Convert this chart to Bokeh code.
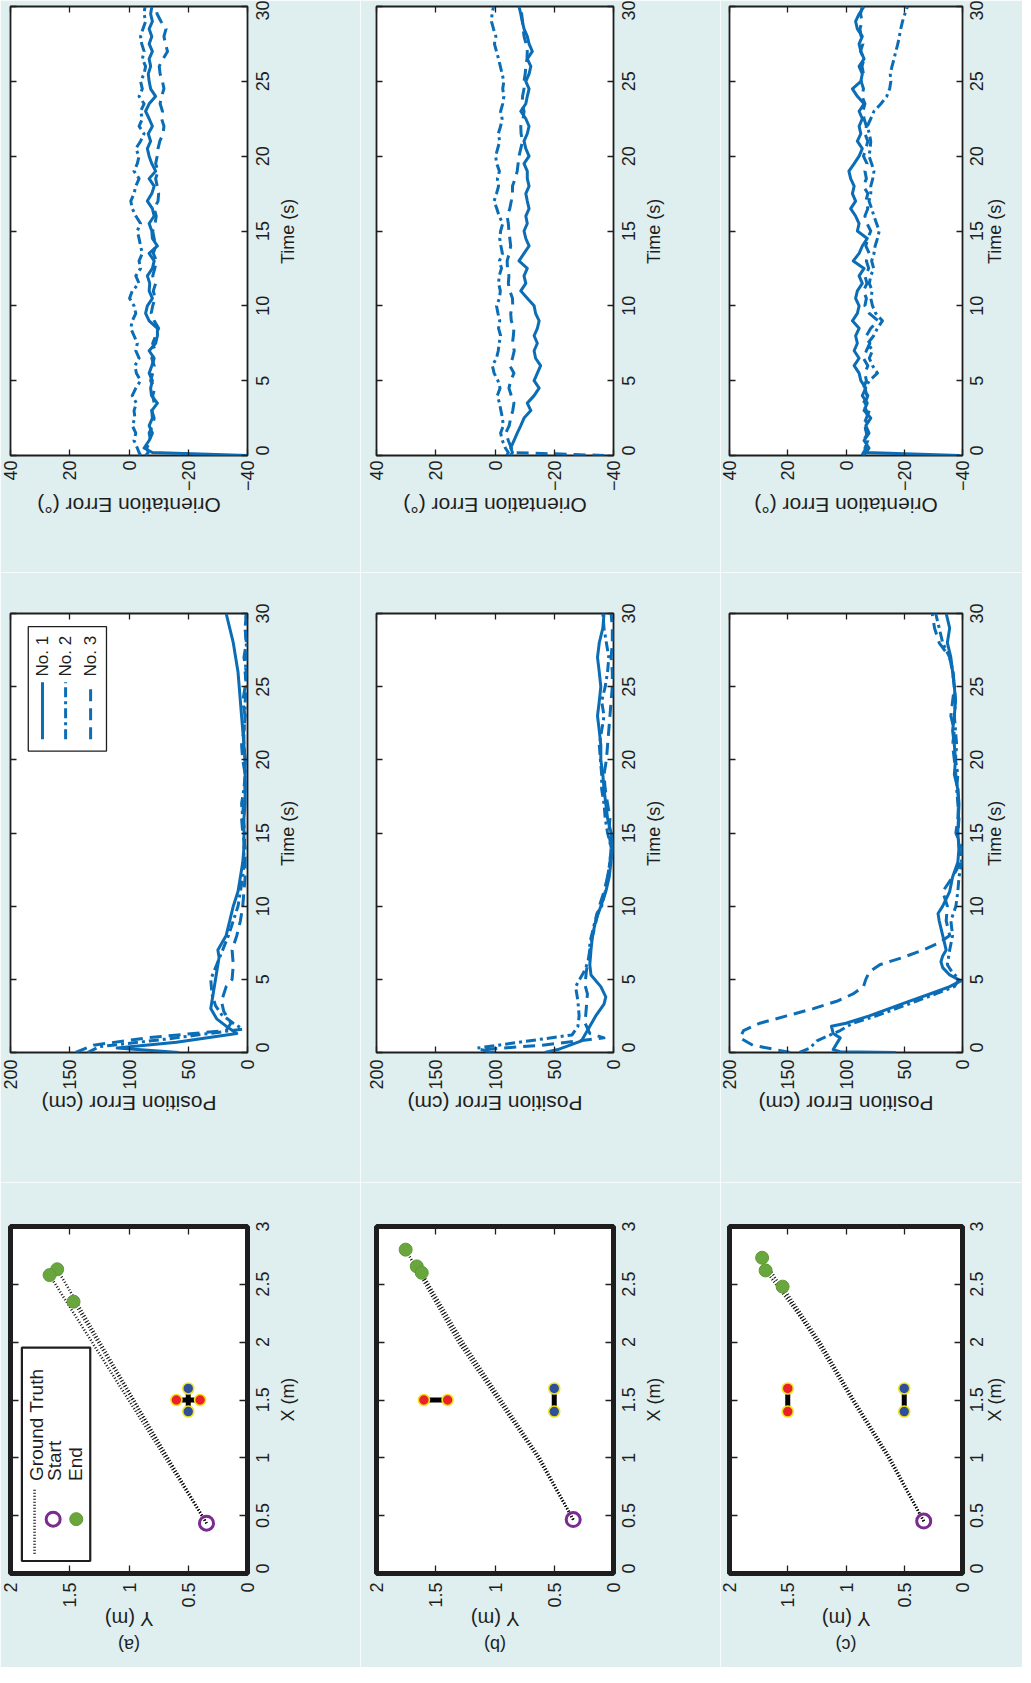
from bokeh.plotting import figure
from bokeh.models import Range1d, LinearAxis, FixedTicker
from bokeh.layouts import column, row
from bokeh.embed import file_html
from bokeh.resources import INLINE
from bokeh.core.properties import value
import math

# ---------------- data ----------------
TIME_TICKS = [0, 5, 10, 15, 20, 25, 30]
TIME_TICK_TEXT = ["0", "5", "10", "15", "20", "25", "30"]
POS_TICKS = [0, 50, 100, 150, 200]
POS_TICK_TEXT = ["0", "50", "100", "150", "200"]
ORI_TICKS = [-40, -20, 0, 20, 40]
ORI_TICK_TEXT = ["\u221240", "\u221220", "0", "20", "40"]
XM_TICKS = [0, 0.5, 1, 1.5, 2, 2.5, 3]
XM_TICK_TEXT = ["0", "0.5", "1", "1.5", "2", "2.5", "3"]
YM_TICKS = [0, 0.5, 1, 1.5, 2]
YM_TICK_TEXT = ["0", "0.5", "1", "1.5", "2"]
SERIES = ["No. 1", "No. 2", "No. 3"]
PANELS = ["(a)", "(b)", "(c)"]
TRAJ_LEGEND = ["Ground Truth", "Start", "End"]

# orientation error (deg), sampled at 0, 0.2, 0.5, 1.0, ... 30 s
ORI_T = [0, 0.2] + [0.5 * k for k in range(1, 61)]
ORI_A_1 = [-40, -7.9, -5.1, -6.8, -7.9, -6.8, -7.9, -7.7, -9.6, -7.6,
           -7.3, -7.9, -6.8, -7.7, -8.5, -6.8, -9.0, -9.6, -9.6, -6.8,
           -5.6, -6.2, -7.9, -6.8, -7.0, -6.2, -7.9, -8.5, -6.8, -9.6,
           -7.9, -7.7, -6.8, -8.5, -7.9, -6.2, -7.7, -8.5, -6.8, -9.0,
           -7.7, -6.8, -6.2, -7.3, -6.5, -7.9, -6.8, -5.6, -6.8, -9.0,
           -7.3, -6.8, -6.5, -7.3, -6.8, -7.9, -6.8, -7.7, -6.8, -7.9,
           -7.3, -7.7]
ORI_A_2 = [-3.9, -3.4, -2.8, -1.7, -2.3, -1.1, -2.0, -1.7, -2.5, -1.1,
           -2.3, -3.9, -2.5, -2.0, -3.4, -2.3, -2.8, -1.7, -0.6, -1.1,
           -2.3, -1.7, -0.2, -1.1, -3.4, -2.3, -3.9, -3.4, -4.5, -3.9,
           -3.4, -2.8, -3.9, -2.3, -1.1, -0.6, -1.7, -2.3, -3.4, -1.7,
           -2.8, -3.4, -2.3, -3.9, -5.1, -3.4, -4.5, -3.9, -5.1, -3.4,
           -4.5, -3.9, -5.1, -5.6, -4.5, -5.1, -4.3, -3.9, -4.7, -5.6,
           -5.1, -5.4]
ORI_A_3 = [-5.6, -6.5, -6.0, -7.3, -6.8, -7.9, -8.5, -7.7, -8.5, -8.0,
           -8.7, -7.3, -8.0, -8.5, -7.7, -8.8, -8.0, -9.0, -10.0, -8.5,
           -7.5, -8.0, -8.8, -8.2, -9.0, -8.0, -8.7, -9.3, -8.2, -9.0,
           -8.5, -8.0, -8.8, -9.2, -8.5, -9.8, -10.0, -9.5, -9.0, -9.8,
           -9.0, -9.5, -9.8, -10.4, -11.5, -11.8, -11.0, -11.3, -10.5, -11.0,
           -11.8, -11.3, -10.5, -10.2, -11.5, -13.0, -12.3, -11.8, -12.5, -10.8,
           -9.5, -9.0]
ORI_B_1 = [-5.3, -5.9, -5.3, -6.4, -7.5, -8.7, -9.8, -12.1, -10.9, -13.2,
           -14.9, -13.2, -14.3, -15.4, -13.7, -13.2, -14.3, -13.2, -14.3, -14.9,
           -13.7, -13.2, -10.9, -8.7, -10.4, -9.8, -10.9, -8.1, -9.8, -11.5,
           -10.4, -9.8, -10.9, -10.4, -11.5, -10.9, -10.4, -11.5, -10.9, -10.9,
           -9.8, -11.5, -10.4, -9.8, -10.9, -11.5, -10.4, -8.7, -10.4, -10.9,
           -11.5, -10.4, -11.5, -12.1, -10.9, -12.6, -11.5, -10.9, -9.8, -9.2,
           -8.7, -8.1]
ORI_B_2 = [-4.0, -4.5, -3.5, -2.5, -1.9, -2.8, -2.5, -2.0, -1.5, -0.8,
           -1.7, -1.0, 0.3, 0.9, -0.5, -1.1, -1.4, -1.9, -1.2, -1.6,
           -1.0, -0.5, -1.5, -1.8, -1.2, -1.4, -2.2, -1.5, -2.5, -2.0,
           -1.6, -1.9, -2.6, -1.4, -0.6, 0.3, -0.5, -1.2, -0.8, -1.5,
           -0.6, -0.2, -0.9, -1.6, -1.1, -1.9, -2.4, -1.9, -2.6, -3.0,
           -2.6, -3.0, -2.4, -1.8, -1.2, -0.5, 0.2, -0.3, 0.5, 1.2,
           1.0, 0.5]
ORI_B_3 = [-37, -6.0, -5.5, -4.5, -3.6, -4.8, -5.3, -6.0, -6.4, -5.5,
           -4.7, -5.3, -6.4, -5.0, -5.9, -6.5, -5.9, -6.2, -6.4, -5.5,
           -5.3, -6.0, -5.9, -5.0, -4.5, -4.7, -4.2, -4.1, -4.8, -5.3,
           -5.0, -4.7, -4.5, -4.1, -5.0, -5.5, -5.9, -5.9, -6.8, -7.5,
           -7.8, -8.1, -8.7, -9.3, -8.8, -8.7, -9.5, -9.8, -9.2, -9.3,
           -9.8, -9.8, -10.2, -10.4, -10.8, -10.9, -10.5, -9.8, -9.5, -9.3,
           -9.0, -8.7]
ORI_C_1 = [-39, -6.8, -7.9, -6.2, -7.9, -6.8, -8.5, -6.2, -7.3, -5.6,
           -6.8, -5.1, -4.5, -2.8, -4.5, -2.8, -3.9, -3.3, -4.5, -2.2,
           -3.9, -4.5, -3.3, -3.9, -5.6, -4.5, -6.2, -2.5, -4.5, -5.6,
           -7.3, -3.9, -4.5, -3.3, -1.6, -3.3, -2.2, -2.8, -1.6, -1.0,
           -2.8, -4.5, -5.6, -3.9, -5.1, -4.5, -5.6, -4.5, -6.2, -3.9,
           -2.2, -5.1, -5.6, -4.5, -6.2, -5.1, -4.5, -5.6, -3.9, -3.3,
           -4.5, -6.2]
ORI_C_2 = [-6.0, -7.0, -6.5, -7.5, -7.0, -6.5, -7.5, -7.0, -6.0, -7.2,
           -6.5, -8.0, -10.8, -9.1, -8.0, -9.1, -7.5, -9.5, -10.8, -12.5,
           -10.2, -9.1, -8.5, -9.0, -8.0, -8.5, -9.5, -8.8, -9.6, -10.0,
           -10.8, -11.4, -10.5, -9.6, -8.8, -7.9, -8.5, -8.5, -9.2, -9.6,
           -8.8, -7.9, -8.3, -8.5, -8.0, -7.3, -8.5, -9.6, -12.0, -14.0,
           -15.0, -15.4, -15.2, -15.8, -16.5, -17.1, -17.8, -18.3, -18.8, -19.4,
           -20.2, -21.1]
ORI_C_3 = [-5.5, -6.0, -7.0, -6.0, -7.5, -6.0, -7.0, -8.0, -6.5, -7.5,
           -6.0, -7.0, -6.5, -7.5, -6.0, -7.0, -8.2, -7.0, -8.5, -11.0,
           -8.0, -6.5, -7.0, -6.0, -7.2, -6.5, -7.8, -7.0, -8.0, -6.8,
           -7.5, -8.5, -7.2, -6.5, -7.5, -6.8, -7.5, -6.0, -7.0, -6.5,
           -7.2, -6.0, -6.8, -7.5, -6.5, -7.0, -6.2, -5.8, -6.5, -5.5,
           -6.0, -5.2, -6.0, -5.5, -6.2, -5.0, -5.8, -5.2, -4.8, -5.5,
           -5.0, -5.6]

# position error (cm): early samples, then one per second from 10 s to 30 s
TAIL_T = list(range(10, 31))
POS_A_T1 = [0, 0.3, 0.7, 1.3, 1.8, 2.3, 3.0, 3.5, 4.5, 5.5, 6.5, 7.0, 8.0, 9.0] + TAIL_T
POS_A_V1 = [58, 110, 60, 9, 18, 26, 31, 30, 28, 26, 24, 25, 18, 15,
            12, 8, 6, 4, 3, 3, 3, 2, 2, 2, 2, 3, 4, 5, 6, 7, 8, 10, 12, 15, 18]
POS_A_T2 = [0, 0.4, 0.9, 1.6, 2.0, 2.6, 3.2, 4.0, 5.0, 6.0, 7.0, 8.0, 9.0] + TAIL_T
POS_A_V2 = [135, 125, 70, 4, 12, 22, 27, 30, 31, 26, 21, 16, 12,
            8, 6, 4, 3, 3, 2, 4, 5, 3, 2, 2, 3, 3, 2, 2, 1, 2, 1, 1, 2, 1]
POS_A_T3 = [0, 0.5, 1.0, 1.5, 2.0, 2.8, 3.5, 4.5, 5.0, 6.0, 7.0, 8.0, 9.0] + TAIL_T
POS_A_V3 = [145, 130, 85, 18, 14, 20, 22, 18, 13, 12, 13, 9, 6,
            4, 3, 2, 2, 2, 4, 5, 3, 2, 2, 4, 5, 3, 2, 4, 2, 1, 3, 1, 2, 1]

POS_B_T1 = [0, 0.2, 0.8, 1.5, 2.5, 3.3, 3.8, 4.5, 5.3, 6.0, 7.0, 8.0, 9.0] + TAIL_T
POS_B_V1 = [58, 47, 27, 22, 15, 8, 6.5, 10.7, 19, 20, 19, 17.7, 15,
            10.7, 6.5, 3.6, 2.2, 0.5, 2, 5, 6.5, 8, 9, 10.7, 10.7, 12, 13.5, 12, 10.7, 12, 13.5, 12, 9, 8]
POS_B_T2 = [0, 0.3, 0.7, 1.2, 1.8, 2.5, 3.5, 4.5, 5.5, 6.5, 7.5, 8.5, 9.5] + TAIL_T
POS_B_V2 = [104, 115, 80, 35, 30, 29, 30, 32, 25, 20, 20, 17, 14,
            10, 7, 5, 3, 2, 5, 7, 8, 10, 10, 11, 12, 10, 8, 10, 7, 5, 4, 6, 8, 9]
POS_B_T3 = [0, 0.2, 0.5, 1.0, 1.3, 2.0, 3.0, 4.0, 4.6, 5.5, 6.5, 7.5, 8.5] + TAIL_T
POS_B_V3 = [100, 112, 60, 8, 20, 24, 23, 22, 24, 23, 21, 19, 16,
            12, 8, 5, 3, 2, 4, 3, 5, 7, 8, 6, 5, 4, 3, 2, 1, 1, 2, 1, 1, 2]

POS_C_T1 = [0, 0.05, 0.2, 1.0, 1.3, 1.8, 2.0, 2.5, 3.0, 3.5, 4.0, 4.5, 4.9, 5.3,
            5.8, 6.2, 6.6, 7.0, 8.0, 9.0, 9.5] + TAIL_T
POS_C_V1 = [57, 105, 111, 105, 111, 112.5, 100, 80, 63, 46, 28, 11, 1.4, 11,
            17, 18.5, 17, 14, 17, 20, 21,
            17, 11, 8.5, 4, 3, 4, 3.5, 3, 4, 7, 6, 7, 8.5, 7, 6, 7, 8.5, 10, 13, 11, 14]
POS_C_T2 = [0, 0.3, 0.8, 1.5, 2.0, 2.5, 3.0, 3.5, 4.0, 4.5, 5.0, 5.5, 6.0, 7.0, 8.0, 9.0] + TAIL_T
POS_C_V2 = [140, 131, 125, 105, 94, 74, 57, 40, 23, 7, 3, 9, 13, 11, 8.5, 10,
            5.7, 4, 3, 0.6, 3, 4, 3, 4, 5, 4, 6, 5, 6, 7, 6, 7, 8, 11, 17, 20, 23]
POS_C_T3 = [0, 0.5, 1.0, 1.5, 2.0, 2.5, 3.0, 3.5, 4.0, 4.5, 5.0, 5.5, 6.0, 6.5,
            7.0, 7.5, 8.0, 9.0] + TAIL_T
POS_C_V3 = [148, 180, 191, 188, 174, 151, 128, 108, 94, 85, 83, 80, 71, 51,
            34, 20, 11, 14,
            13, 17, 8.5, 1.4, 0.6, 5.7, 4, 3.4, 4, 5.7, 7, 8.5, 7, 10, 8.5, 7, 8.5, 11, 20, 24, 26]

# ground-truth trajectories (X, Y in m), one list per robot
TRAJ_A_X = [[0.435, 2.63], [0.435, 2.58], [0.435, 2.35]]
TRAJ_A_Y = [[0.346, 1.606], [0.346, 1.67], [0.346, 1.468]]
TRAJ_B_X = [[0.466, 1.0, 2.0, 2.80], [0.466, 1.0, 2.0, 2.655], [0.466, 1.0, 2.0, 2.60]]
TRAJ_B_Y = [[0.34, 0.64, 1.31, 1.754], [0.34, 0.63, 1.29, 1.66], [0.34, 0.62, 1.27, 1.618]]
TRAJ_C_X = [[0.453, 1.0, 1.5, 2.0, 2.73], [0.453, 1.0, 1.5, 2.0, 2.62], [0.453, 1.0, 1.5, 2.0, 2.48]]
TRAJ_C_Y = [[0.333, 0.64, 0.95, 1.25, 1.72], [0.333, 0.63, 0.94, 1.23, 1.69], [0.333, 0.62, 0.93, 1.22, 1.544]]

# landmark pairs (X, Y in m)
RED_A_X = [1.5, 1.5]
RED_A_Y = [0.6, 0.4]
BLUE_A_X = [1.6, 1.4]
BLUE_A_Y = [0.5, 0.5]
RED_B_X = [1.5, 1.5]
RED_B_Y = [1.6, 1.4]
BLUE_B_X = [1.6, 1.4]
BLUE_B_Y = [0.5, 0.5]
RED_C_X = [1.6, 1.4]
RED_C_Y = [1.5, 1.5]
BLUE_C_X = [1.6, 1.4]
BLUE_C_Y = [0.5, 0.5]

# ---------------- style ----------------
FONT = "Liberation Sans"
INK = "#1e1e1e"
BG = "#dfeeee"
LINE_BLUE = "#0b6db5"
DASHES = ["solid", "10 4 3 4", "12 7"]
GT_DASH = "1 2"
RED = "#e8212b"
BLUE = "#2d4f9e"
YELLOW = "#f2e21c"
GREEN = "#6aa63e"
PURPLE = "#7b2a90"
UP = math.pi / 2          # text reading bottom-to-top
FLIP = math.pi            # upside-down text
TICK_FS = 18
VTITLE_FS = 18

# advance widths (em) of Arial / Liberation Sans, used to centre turned labels
ADV = {"0": .556, "1": .556, "2": .556, "3": .556, "4": .556, "5": .556, "6": .556,
       "7": .556, "8": .556, "9": .556, ".": .278, " ": .278, "(": .333, ")": .333,
       "\u2212": .584, "\u00b0": .4, "T": .611, "X": .667, "Y": .667, "P": .667,
       "E": .667, "O": .778, "i": .222, "m": .833, "e": .556, "s": .5, "o": .556,
       "t": .278, "n": .556, "r": .333, "c": .5, "a": .556, "b": .556}


def text_w(s, px):
    return px * sum(ADV.get(ch, 0.556) for ch in s)


# The published figure is turned 90 degrees: time / X run upward, errors / Y run leftward.
COL_W = [360, 360, 302]
COL_B = [(10, 113), (16, 107), (9, 60)]
ROW_H = [572, 610, 485]
ROW_B = [(6, 117), (41, 130), (44, 88)]
# standoffs: (tick labels below, title below, tag below) and (tick labels right, title right)
ROW_SO = [(5, 11, 0), (7, 11, 0), (9, 8, 1)]
COL_SO = [(15, 10), (15, 10), (14, 3)]
ROW_TITLE_FS = [21, 21, 20]
TAG_FS = 18


def frame_fig(r, c, x_range, y_range, outline_w):
    bl, br = COL_B[c]
    bt, bb = ROW_B[r]
    p = figure(width=COL_W[c], height=ROW_H[r], x_range=x_range, y_range=y_range,
               output_backend="svg", toolbar_location=None, title=None,
               x_axis_location=None, y_axis_location=None,
               min_border_left=bl, min_border_right=br,
               min_border_top=bt, min_border_bottom=bb)
    p.grid.visible = False
    p.background_fill_color = "white"
    p.border_fill_color = BG
    p.outline_line_color = INK
    p.outline_line_width = outline_w
    return p


def base_axis(ticks, tick_len):
    a = LinearAxis(ticker=FixedTicker(ticks=ticks), axis_label=None)
    a.axis_line_color = None
    a.major_tick_in = tick_len
    a.major_tick_out = 0
    a.minor_tick_in = 0
    a.minor_tick_out = 0
    a.major_tick_line_color = INK if tick_len > 0 else None
    a.major_tick_line_width = 1.3
    return a


def tick_only_axis(ticks, tick_len):
    a = base_axis(ticks, tick_len)
    a.major_label_overrides = {t: "" for t in ticks}
    a.major_label_text_font_size = "0px"
    a.major_label_standoff = 0
    return a


def text_axis(positions, texts, orient, standoff, fs):
    a = base_axis(positions, 0)
    a.major_label_overrides = dict(zip(positions, texts))
    a.major_label_orientation = orient
    a.major_label_standoff = standoff
    a.major_label_text_font = FONT
    a.major_label_text_font_size = "%dpx" % fs
    a.major_label_text_color = INK
    return a


def add_axes(p, r, c, e_rng, eticks, etext, etitle, t_rng, tticks, ttext, ttitle,
             tick_len, tag=None):
    bl, br = COL_B[c]
    bt, bb = ROW_B[r]
    fw = COL_W[c] - bl - br
    fh = ROW_H[r] - bt - bb
    ppu_e = fw / abs(e_rng[0] - e_rng[1])
    ppu_t = fh / abs(t_rng[1] - t_rng[0])
    e_mid = 0.5 * (e_rng[0] + e_rng[1])
    t_mid = 0.5 * (t_rng[0] + t_rng[1])
    so_tick_b, so_title_b, so_tag_b = ROW_SO[r]
    so_tick_r, so_title_r = COL_SO[c]
    title_fs = ROW_TITLE_FS[r]

    # bottom: error / Y ticks with turned labels, then the upside-down title (and tag)
    bx = base_axis(eticks, tick_len)
    bx.major_label_overrides = dict(zip(eticks, etext))
    bx.major_label_orientation = UP
    bx.major_label_standoff = so_tick_b
    bx.major_label_text_font = FONT
    bx.major_label_text_font_size = "%dpx" % TICK_FS
    bx.major_label_text_color = INK
    p.add_layout(bx, "below")
    pos = e_mid + text_w(etitle, title_fs) / 2 / ppu_e
    p.add_layout(text_axis([pos], [etitle], FLIP, so_title_b, title_fs), "below")
    if tag is not None:
        pos = e_mid + text_w(tag, TAG_FS) / 2 / ppu_e
        p.add_layout(text_axis([pos], [tag], FLIP, so_tag_b, TAG_FS), "below")
    p.add_layout(tick_only_axis(eticks, tick_len), "above")

    # right: time / X ticks, labels reading upward, title
    p.add_layout(tick_only_axis(tticks, tick_len), "left")
    p.add_layout(tick_only_axis(tticks, tick_len), "right")
    lpos = [max(t - text_w(s, TICK_FS) / 2 / ppu_t, t_rng[0]) for t, s in zip(tticks, ttext)]
    p.add_layout(text_axis(lpos, ttext, UP, so_tick_r, TICK_FS), "right")
    tpos = t_mid - text_w(ttitle, VTITLE_FS) / 2 / ppu_t
    p.add_layout(text_axis([tpos], [ttitle], UP, so_title_r, VTITLE_FS), "right")


def vtext(p, x, y, txt, size):
    p.text(x=[x], y=[y], text=[txt], angle=UP, text_align="left", text_baseline="middle",
           text_font=value(FONT), text_font_size=value(size), text_color=INK)


def traj_panel(c, tx, ty, rx, ry, bxs, bys, tag, with_legend):
    # horizontal: Y (m), reversed; vertical: X (m)
    p = frame_fig(2, c, Range1d(2, 0), Range1d(0, 3), 5)
    add_axes(p, 2, c, (2, 0), YM_TICKS, YM_TICK_TEXT, "Y (m)", (0, 3), XM_TICKS, XM_TICK_TEXT,
             "X (m)", 8, tag)
    for k in range(len(tx)):
        p.line(ty[k], tx[k], line_color="#111111", line_width=2.6, line_dash=GT_DASH)
    p.line(bys, bxs, line_color="black", line_width=5)
    p.line(ry, rx, line_color="black", line_width=5)
    p.scatter(bys, bxs, size=11, fill_color=BLUE, line_color=YELLOW, line_width=1.6)
    p.scatter(ry, rx, size=11, fill_color=RED, line_color=YELLOW, line_width=1.6)
    p.scatter([ty[0][0]], [tx[0][0]], size=14, fill_color=None, line_color=PURPLE, line_width=3)
    p.scatter([t[-1] for t in ty], [t[-1] for t in tx], size=13, fill_color=GREEN,
              line_color="#5f9a35", line_width=1)
    if with_legend:
        p.quad(left=[1.904], right=[1.327], bottom=[0.108], top=[1.953],
               fill_color="white", line_color=INK, line_width=2.2)
        p.line([1.797, 1.797], [0.17, 0.74], line_color="#111111", line_width=2.6,
               line_dash=GT_DASH)
        p.scatter([1.64], [0.47], size=14, fill_color=None, line_color=PURPLE, line_width=3)
        p.scatter([1.445], [0.47], size=13, fill_color=GREEN, line_color="#5f9a35", line_width=1)
        vtext(p, 1.78, 0.80, TRAJ_LEGEND[0], "19px")
        vtext(p, 1.625, 0.80, TRAJ_LEGEND[1], "19px")
        vtext(p, 1.455, 0.80, TRAJ_LEGEND[2], "19px")
    return p


def pos_panel(c, times, vals, with_legend):
    p = frame_fig(1, c, Range1d(200, 0), Range1d(0, 30), 1.8)
    add_axes(p, 1, c, (200, 0), POS_TICKS, POS_TICK_TEXT, "Position Error (cm)",
             (0, 30), TIME_TICKS, TIME_TICK_TEXT, "Time (s)", 6)
    for k in range(3):
        t, v = times[k], vals[k]
        n = min(len(t), len(v))
        p.line(v[:n], t[:n], line_color=LINE_BLUE, line_width=3,
               line_dash=DASHES[k], line_join="round")
    if with_legend:
        p.quad(left=[185], right=[119], bottom=[20.6], top=[29.1],
               fill_color="white", line_color=INK, line_width=1.3)
        for k, xv in enumerate([173, 153.5, 132.4]):
            p.line([xv, xv], [21.4, 25.3], line_color=LINE_BLUE, line_width=3,
                   line_dash=DASHES[k])
            vtext(p, xv, 25.7, SERIES[k], "17px")
    return p


def ori_panel(c, vals):
    p = frame_fig(0, c, Range1d(40, -40), Range1d(0, 30), 1.8)
    add_axes(p, 0, c, (40, -40), ORI_TICKS, ORI_TICK_TEXT, "Orientation Error (\u00b0)",
             (0, 30), TIME_TICKS, TIME_TICK_TEXT, "Time (s)", 6)
    for k in range(3):
        v = vals[k]
        n = min(len(ORI_T), len(v))
        p.line(v[:n], ORI_T[:n], line_color=LINE_BLUE, line_width=3,
               line_dash=DASHES[k], line_join="round")
    return p


# screen rows: orientation (top), position (middle), trajectory (bottom);
# screen columns: experiments (a), (b), (c)
top = row(ori_panel(0, [ORI_A_1, ORI_A_2, ORI_A_3]),
          ori_panel(1, [ORI_B_1, ORI_B_2, ORI_B_3]),
          ori_panel(2, [ORI_C_1, ORI_C_2, ORI_C_3]))
mid = row(pos_panel(0, [POS_A_T1, POS_A_T2, POS_A_T3], [POS_A_V1, POS_A_V2, POS_A_V3], True),
          pos_panel(1, [POS_B_T1, POS_B_T2, POS_B_T3], [POS_B_V1, POS_B_V2, POS_B_V3], False),
          pos_panel(2, [POS_C_T1, POS_C_T2, POS_C_T3], [POS_C_V1, POS_C_V2, POS_C_V3], False))
bot = row(traj_panel(0, TRAJ_A_X, TRAJ_A_Y, RED_A_X, RED_A_Y, BLUE_A_X, BLUE_A_Y, PANELS[0], True),
          traj_panel(1, TRAJ_B_X, TRAJ_B_Y, RED_B_X, RED_B_Y, BLUE_B_X, BLUE_B_Y, PANELS[1], False),
          traj_panel(2, TRAJ_C_X, TRAJ_C_Y, RED_C_X, RED_C_Y, BLUE_C_X, BLUE_C_Y, PANELS[2], False))
root = column(top, mid, bot)

html = file_html(root, INLINE)
html = html.replace("<body>", '<body style="background-color: %s;">' % BG, 1)
open("out.html", "w").write(html)
